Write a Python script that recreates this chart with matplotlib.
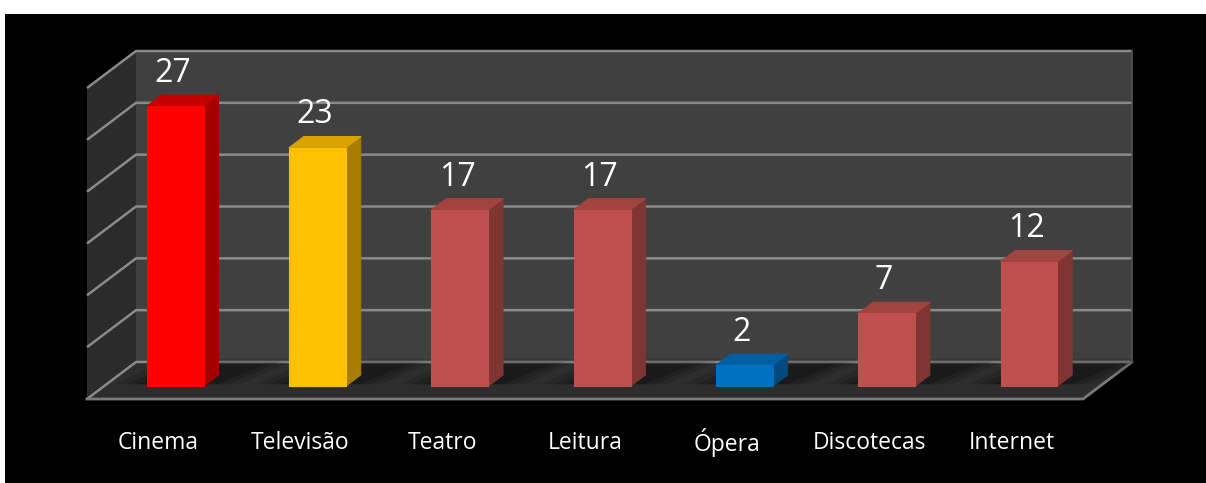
import matplotlib
matplotlib.use("Agg")
import matplotlib.pyplot as plt
from matplotlib.patches import Polygon

categories = ["Cinema", "Televisão", "Teatro", "Leitura", "Ópera", "Discotecas", "Internet"]
values = [27, 23, 17, 17, 2, 7, 12]
y_max = 30
y_step = 5

# front, side, top colours for each bar
front_cols = ["#ff0000", "#ffc000", "#c0504d", "#c0504d", "#0070c0", "#c0504d", "#c0504d"]
side_cols = ["#a50000", "#a67d00", "#7f3532", "#7f3532", "#004a80", "#7f3532", "#7f3532"]
top_cols = ["#c40000", "#d9a300", "#a3433f", "#a3433f", "#005ea3", "#a3433f", "#a3433f"]

# pixel geometry of the oblique projection
px_cat = (1083 - 87) / 7.0
px_val = (399 - 88) / 30.0
ddx = 49 / px_cat      # depth shift in category units
ddy = 37 / px_val      # depth shift in value units

fig = plt.figure(figsize=(12.06, 4.83), dpi=100, facecolor="white")
ax = fig.add_axes([5 / 1206, 0, 1201 / 1206, 469 / 483])
ax.set_facecolor("black")
x0 = -0.5 - (87 - 5) / px_cat
ax.set_xlim(x0, x0 + 1201 / px_cat)
y1 = (399 - 14) / px_val
ax.set_ylim(y1 - 469 / px_val, y1)
ax.set_xticks([])
ax.set_yticks([])
for s in ax.spines.values():
    s.set_visible(False)

n = len(categories)
xl, xr = -0.5, n - 0.5


def pt(x, v, d):
    return (x + d * ddx, v + d * ddy)


grid_col = "#8a8a8a"
# walls and floor
ax.add_patch(Polygon([pt(xl, 0, 0), pt(xl, 0, 1), pt(xl, y_max, 1), pt(xl, y_max, 0)],
                     closed=True, fc="#2b2b2b", ec="none", zorder=1))
ax.add_patch(Polygon([pt(xl, 0, 1), pt(xr, 0, 1), pt(xr, y_max, 1), pt(xl, y_max, 1)],
                     closed=True, fc="#404040", ec="none", zorder=1))
ax.add_patch(Polygon([pt(xl, 0, 0), pt(xr, 0, 0), pt(xr, 0, 1), pt(xl, 0, 1)],
                     closed=True, fc="#2d2d2d", ec="none", zorder=1))

for v in range(0, y_max + 1, y_step):
    a, b = pt(xl, v, 0), pt(xl, v, 1)
    c = pt(xr, v, 1)
    ax.plot([a[0], b[0], c[0]], [a[1], b[1], c[1]], color=grid_col, lw=1.8, zorder=2,
            solid_capstyle="butt")
# floor outline
f = [pt(xl, 0, 0), pt(xr, 0, 0), pt(xr, 0, 1)]
ax.plot([p[0] for p in f], [p[1] for p in f], color="#7a7a7a", lw=2, zorder=2)
e = [pt(xr, 0, 1), pt(xr, y_max, 1)]
ax.plot([p[0] for p in e], [p[1] for p in e], color="#555555", lw=1.2, zorder=2)

hw = 0.2
d0, d1 = 0.35, 0.65
for i, v in enumerate(values):
    l, r = i - hw, i + hw
    # soft floor shadow
    for k, a in enumerate([0.12, 0.15, 0.2]):
        g = 0.08 * (3 - k)
        ax.add_patch(Polygon([pt(l - g, 0, d0 + 0.05), pt(r + g, 0, d0 + 0.05),
                              pt(r + 0.15 + g, 0, d1 + 0.2 + g), pt(l + 0.15 - g, 0, d1 + 0.2 + g)],
                             closed=True, fc="black", ec="none", alpha=a, zorder=3))
    ax.add_patch(Polygon([pt(r, 0, d0), pt(r, 0, d1), pt(r, v, d1), pt(r, v, d0)],
                         closed=True, fc=side_cols[i], ec=side_cols[i], lw=0.8,
                         joinstyle="round", zorder=4))
    ax.add_patch(Polygon([pt(l, v, d0), pt(r, v, d0), pt(r, v, d1), pt(l, v, d1)],
                         closed=True, fc=top_cols[i], ec=top_cols[i], lw=0.8,
                         joinstyle="round", zorder=4))
    ax.add_patch(Polygon([pt(l, 0, d0), pt(r, 0, d0), pt(r, v, d0), pt(l, v, d0)],
                         closed=True, fc=front_cols[i], ec=front_cols[i], lw=0.8,
                         joinstyle="round", zorder=5))
    ly = pt(i, v, d1)[1]
    lx = pt(i - 0.02, v, d0)[0]
    ax.text(lx, ly + 0.5, str(v), ha="center", va="bottom", color="white",
            fontsize=23, family="Open Sans", fontweight="medium", zorder=6)
    ax.text(i, -4.2, categories[i], ha="center", va="center", color="white",
            fontsize=16.5, family="Open Sans", fontweight="medium", zorder=6)

fig.savefig("out.png", dpi=100, facecolor="white")
